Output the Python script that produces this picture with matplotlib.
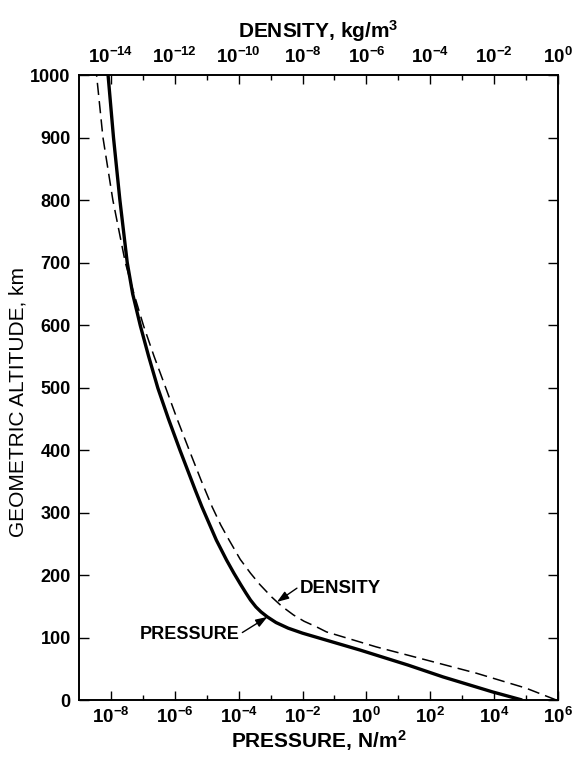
import numpy as np
import matplotlib
matplotlib.use("Agg")
import matplotlib.pyplot as plt

plt.rcParams['font.family'] = ['Liberation Sans', 'DejaVu Sans']
plt.rcParams['font.weight'] = 'bold'
plt.rcParams['mathtext.fontset'] = 'custom'
plt.rcParams['mathtext.rm'] = 'Liberation Sans:bold'
plt.rcParams['mathtext.it'] = 'Liberation Sans:bold'
plt.rcParams['mathtext.bf'] = 'Liberation Sans:bold'
plt.rcParams['mathtext.default'] = 'rm'

# ---- data ----
# Pressure profile: altitude (km) and log10 pressure (N/m^2)
p_alt = [0, 13, 37, 56, 80, 95, 107, 115, 124, 133, 141, 149, 160, 171,
         185, 203, 224, 256, 309, 336, 400, 450, 499, 550, 599, 650, 700,
         800, 900, 1000]
p_log = [4.88, 3.95, 2.4, 1.3, -0.2, -1.2, -2.0, -2.45, -2.83, -3.1, -3.3,
         -3.46, -3.63, -3.77, -3.94, -4.15, -4.38, -4.7, -5.15, -5.36,
         -5.84, -6.2, -6.53, -6.82, -7.08, -7.32, -7.49, -7.72, -7.92, -8.09]
# Density profile: altitude (km) and log10 density (kg/m^3)
d_alt = [0, 19, 43, 64, 85, 109, 117, 126, 136, 150, 165, 185, 203, 225,
         256, 280, 309, 352, 400, 450, 499, 550, 599, 650, 700, 800, 900,
         1000]
d_log = [-0.05, -1.0, -2.56, -4.12, -5.69, -7.25, -7.56, -7.95, -8.28,
         -8.65, -8.97, -9.34, -9.63, -9.95, -10.3, -10.56, -10.83, -11.18,
         -11.55, -11.93, -12.28, -12.65, -12.98, -13.28, -13.55, -13.94,
         -14.25, -14.45]

p_major_exp = [-8, -6, -4, -2, 0, 2, 4, 6]
p_minor_exp = [-7, -5, -3, -1, 1, 3, 5]
d_major_exp = [-14, -12, -10, -8, -6, -4, -2, 0]
d_minor_exp = [-13, -11, -9, -7, -5, -3, -1]
alt_ticks = list(range(0, 1001, 100))

# annotation anchor altitudes (km)
p_note_alt = 133
d_note_alt = 157

fig = plt.figure(figsize=(5.75, 7.6), dpi=100)
ax = fig.add_axes([0.1374, 0.0789, 0.8330, 0.8224])
ax.set_xscale('log')
ax.set_xlim(1e-9, 1e6)
ax.set_ylim(0, 1000)

ax.plot(10.0 ** np.array(p_log), p_alt, color='black', lw=2.4,
        solid_capstyle='butt', solid_joinstyle='round')

ax2 = ax.twiny()
ax2.set_xscale('log')
ax2.set_xlim(1e-15, 1e0)
ax2.plot(10.0 ** np.array(d_log), d_alt, color='black', lw=1.1,
         dashes=(8, 4))

# ticks
ax.set_xticks([10.0 ** e for e in p_major_exp],
              [r'$\mathrm{10^{%d}}$' % e for e in p_major_exp])
ax.set_xticks([10.0 ** e for e in p_minor_exp], minor=True)
ax.set_xticklabels([], minor=True)
ax2.set_xticks([10.0 ** e for e in d_major_exp],
               [r'$\mathrm{10^{%d}}$' % e for e in d_major_exp])
ax2.set_xticks([10.0 ** e for e in d_minor_exp], minor=True)
ax2.set_xticklabels([], minor=True)
ax.set_yticks(alt_ticks, [str(v) for v in alt_ticks])

ax.tick_params(axis='x', which='major', direction='in', length=6.5, width=1,
               labelsize=13.5, pad=5, top=False)
ax.tick_params(axis='x', which='minor', direction='in', length=3.5, width=1,
               top=False)
ax2.tick_params(axis='x', which='major', direction='in', length=6.5, width=1,
                labelsize=13.5, pad=6)
ax2.tick_params(axis='x', which='minor', direction='in', length=3.5, width=1)
ax.tick_params(axis='y', which='major', direction='in', length=7, width=1,
               labelsize=13, pad=6, right=True)
ax.tick_params(axis='y', which='minor', left=False, right=False)

for a in (ax, ax2):
    for s in a.spines.values():
        s.set_linewidth(1.2)

ax.set_xlabel(r'PRESSURE, N/m$\mathrm{^2}$', fontsize=15, fontweight='bold',
              labelpad=1)
ax2.set_xlabel(r'DENSITY, kg/m$\mathrm{^3}$', fontsize=15, fontweight='bold',
               labelpad=6)
ax.set_ylabel('GEOMETRIC ALTITUDE, km', fontsize=15, fontweight='normal')
ax.yaxis.set_label_coords(-0.108, 0.477)

# annotations
p_tip = 10.0 ** np.interp(p_note_alt, p_alt, p_log)
d_tip = 10.0 ** np.interp(d_note_alt, d_alt, d_log)
arrow = dict(arrowstyle='-|>,head_length=0.7,head_width=0.25', color='black',
             lw=1.0, shrinkA=0, shrinkB=0)
ax.text(0.336, 0.1056, 'PRESSURE', transform=ax.transAxes, ha='right',
        va='center', fontsize=13)
ax.annotate('', xy=(p_tip, p_note_alt), xycoords='data',
            xytext=(0.341, 0.108), textcoords='axes fraction',
            arrowprops=arrow)
ax2.text(0.461, 0.179, 'DENSITY', transform=ax2.transAxes, ha='left',
         va='center', fontsize=13.5)
ax2.annotate('', xy=(d_tip, d_note_alt), xycoords='data',
             xytext=(0.455, 0.179), textcoords='axes fraction',
             arrowprops=arrow)

fig.savefig('out.png', dpi=100)
